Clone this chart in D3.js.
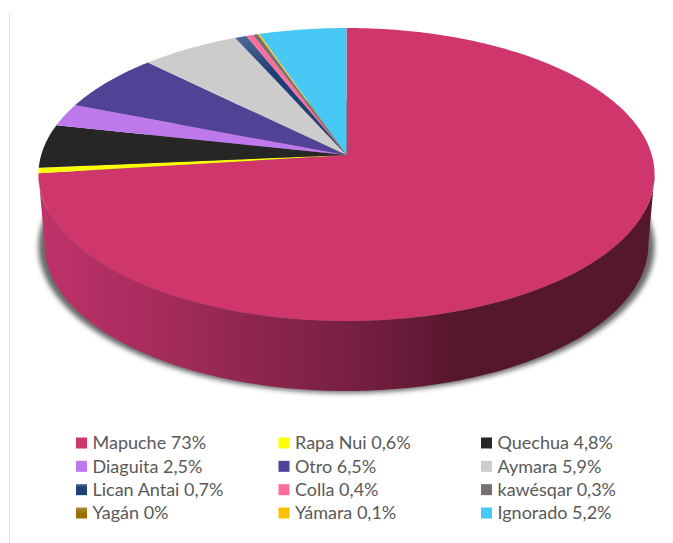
<!DOCTYPE html>
<html lang="en">
<head>
<meta charset="UTF-8">
<title>Pueblos originarios</title>
<script src="https://d3js.org/d3.v7.min.js"></script>
<style>
    html, body { margin: 0; padding: 0; background: #fff; }
    svg { display: block; }
    .legend text { font-family: Lato, "Open Sans", sans-serif; font-size: 18px; fill: #595959; }
</style>
</head>
<body>
<svg width="673" height="543"></svg>
<script>
    const categories = ["Mapuche", "Rapa Nui", "Quechua", "Diaguita", "Otro", "Aymara", "Lican Antai", "Colla", "kawésqar", "Yagán", "Yámara", "Ignorado"];
    const values = [73, 0.6, 4.8, 2.5, 6.5, 5.9, 0.7, 0.4, 0.3, 0, 0.1, 5.2];
    const valueLabels = ["73%", "0,6%", "4,8%", "2,5%", "6,5%", "5,9%", "0,7%", "0,4%", "0,3%", "0%", "0,1%", "5,2%"];
    const colors = ["#cf376c", "#ffff00", "#262626", "#bf78ec", "#514295", "#cdcbcc", "url(#lican)", "#ff6d9b", "#767171", "url(#yagan)", "#ffc000", "#48c8f5"];

    const svg = d3.select("svg");
    const defs = svg.append("defs");

    // tilted pie: a circle seen in perspective, so the centre sits above the ellipse middle
    const cx = 346.5, cy = 155, rx = 305.3, ry = 143.9, k = 0.133;
    const depth = 70, bottomScale = 0.98;

    const project = (angle, drop = 0, scale = 1) => {
        const u = Math.sin(angle), v = -Math.cos(angle), w = 1 - k * v;
        return [cx + scale * rx * u / w, cy + drop + ry * v / w];
    };

    const line = d3.line();
    const arcPoints = (a0, a1, drop, scale) => {
        const n = Math.max(2, Math.ceil(Math.abs(a1 - a0) / 0.01));
        return d3.range(n + 1).map(i => project(a0 + (a1 - a0) * i / n, drop, scale));
    };

    const arcs = d3.pie().sort(null).value(d => d)(values);

    // the visible wall runs between the two tangent points of the ellipse
    const wallStart = Math.acos(-k), wallEnd = 2 * Math.PI - wallStart;
    const wallPath = line([
        ...arcPoints(wallStart, wallEnd, 0, 1),
        ...arcPoints(wallEnd, wallStart, depth, bottomScale)
    ]) + "Z";

    defs.append("filter").attr("id", "blur")
        .attr("x", "-10%").attr("y", "-10%").attr("width", "120%").attr("height", "120%")
        .append("feGaussianBlur").attr("stdDeviation", 2.6);

    const addGradient = (id, stops) => {
        const g = defs.append("linearGradient").attr("id", id)
            .attr("x1", 0).attr("x2", 0).attr("y1", 0).attr("y2", 1);
        stops.forEach(s => g.append("stop").attr("offset", s[0]).attr("stop-color", s[1]));
    };
    addGradient("lican", [[0, "#4f6a94"], [0.3, "#1f3f77"], [1, "#1f3f77"]]);
    addGradient("yagan", [[0, "#b08a3a"], [0.5, "#9c6f00"], [1, "#9c6f00"]]);

    const wallGrad = defs.append("linearGradient").attr("id", "wall")
        .attr("gradientUnits", "userSpaceOnUse")
        .attr("x1", 38).attr("x2", 655).attr("y1", 0).attr("y2", 0);
    [[0, "#c0336a"], [0.18, "#a82c5c"], [0.42, "#84234a"], [0.587, "#6b1c3a"], [0.68, "#55172e"], [1, "#54172d"]]
        .forEach(s => wallGrad.append("stop").attr("offset", s[0]).attr("stop-color", s[1]));

    svg.append("line").attr("x1", 9.5).attr("x2", 9.5).attr("y1", 12).attr("y2", 543)
        .attr("stroke", "#e2e2e2").attr("stroke-width", 1);

    // soft shadow: the lower ellipse, a bit wider than the wall
    svg.append("path").attr("d", line(arcPoints(0, 2 * Math.PI, depth + 2, 1.0)) + "Z")
        .attr("fill", "#444").attr("opacity", 0.8).attr("filter", "url(#blur)");

    svg.append("path").attr("d", wallPath).attr("fill", "url(#wall)");

    svg.append("g").selectAll("path").data(arcs).join("path")
        .filter(d => d.value > 0)
        .attr("fill", d => colors[d.index])
        .attr("d", d => line([[cx, cy], ...arcPoints(d.startAngle, d.endAngle, 0, 1)]) + "Z");

    // legend
    const col = d3.scalePoint().domain([0, 1, 2]).range([76, 481]);
    const row = d3.scalePoint().domain([0, 1, 2, 3]).range([443, 513]);

    const legend = svg.append("g").attr("class", "legend").selectAll("g").data(categories).join("g")
        .attr("transform", (d, i) => `translate(${col(i % 3)},${row(Math.floor(i / 3))})`);
    legend.append("rect").attr("x", 0).attr("y", -5.5).attr("width", 11).attr("height", 11)
        .attr("fill", (d, i) => colors[i]);
    legend.append("text").attr("x", 16.5).attr("dy", "0.35em")
        .text((d, i) => `${d} ${valueLabels[i]}`);
</script>
</body>
</html>
